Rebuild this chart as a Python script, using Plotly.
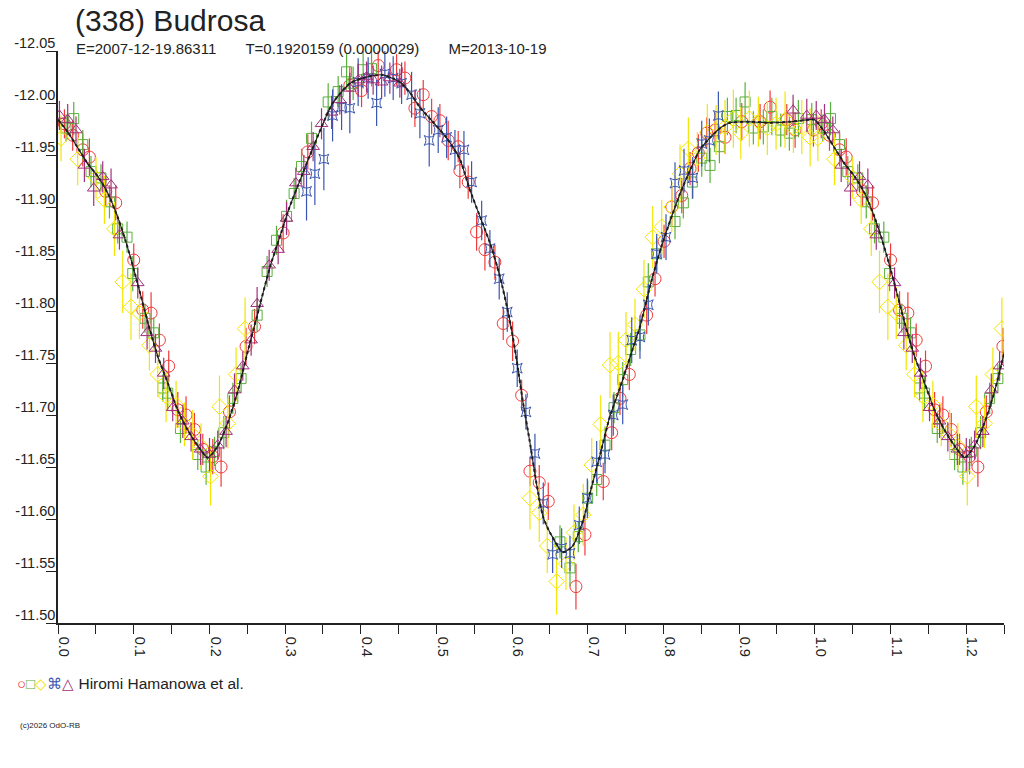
"""
Lightcurve of (338) Budrosa, folded on the rotation period.
Five observing sessions plus the fitted curve; phase 0-0.25 repeated past 1.0.
"""

import plotly.graph_objects as go

# ---------------------------------------------------------------------------
# Data (phase, reduced magnitude, 1-sigma error)
# ---------------------------------------------------------------------------
RED_PHASE = [
    0.0085, 0.0194, 0.0327, 0.0415, 0.0631, 0.0763, 0.1001, 0.1120, 0.1230, 0.1340,
    0.1463, 0.1583, 0.1692, 0.1803, 0.1913, 0.2045, 0.2155, 0.2266, 0.2485, 0.2597,
    0.2975, 0.3301, 0.3856, 0.4011, 0.4231, 0.4474, 0.4584, 0.4716, 0.4826, 0.4937,
    0.5046, 0.5156, 0.5288, 0.5310, 0.5420, 0.5531, 0.5641, 0.5773, 0.5883, 0.6007,
    0.6126, 0.6236, 0.6359, 0.6478, 0.6844, 0.6963, 0.7205, 0.7316, 0.7426, 0.7549,
    0.7779, 0.7889, 0.8008, 0.8110, 0.8242, 0.8352, 0.8461, 0.8572, 0.8682, 0.8814,
    0.9035, 0.9277, 0.9409, 0.9630, 0.9740, 0.9982,
]
RED_MAG = [
    -11.980, -11.969, -11.955, -11.948, -11.915, -11.904, -11.849, -11.801, -11.798, -11.772,
    -11.747, -11.705, -11.700, -11.686, -11.667, -11.660, -11.650, -11.703, -11.766, -11.785,
    -11.875, -11.953, -12.017, -12.012, -12.036, -12.032, -12.024, -11.995, -12.008, -11.987,
    -11.983, -11.964, -11.958, -11.935, -11.924, -11.876, -11.859, -11.847, -11.788, -11.771,
    -11.719, -11.646, -11.635, -11.617, -11.535, -11.585, -11.636, -11.683, -11.716, -11.739,
    -11.796, -11.831, -11.867, -11.900, -11.911, -11.937, -11.952, -11.971, -11.974, -11.967,
    -11.982, -11.982, -11.996, -11.984, -11.974, -11.974,
]
RED_ERR = [
    0.014, 0.015, 0.016, 0.018, 0.015, 0.017, 0.016, 0.018, 0.020, 0.016,
    0.015, 0.017, 0.018, 0.016, 0.015, 0.017, 0.019, 0.016, 0.018, 0.017,
    0.018, 0.017, 0.018, 0.016, 0.020, 0.015, 0.016, 0.018, 0.014, 0.017,
    0.016, 0.019, 0.015, 0.017, 0.016, 0.018, 0.020, 0.017, 0.016, 0.019,
    0.015, 0.014, 0.017, 0.018, 0.022, 0.020, 0.018, 0.017, 0.016, 0.015,
    0.018, 0.017, 0.016, 0.019, 0.017, 0.016, 0.018, 0.015, 0.017, 0.016,
    0.018, 0.017, 0.016, 0.015, 0.017, 0.016,
]

GREEN_PHASE = [
    0.0106, 0.0208, 0.0327, 0.0436, 0.0568, 0.0680, 0.0789, 0.0912, 0.0988, 0.1150,
    0.1265, 0.1384, 0.1450, 0.1618, 0.1847, 0.1957, 0.2068, 0.2191, 0.2310, 0.2419,
    0.2631, 0.2763, 0.2887, 0.3020, 0.3120, 0.3218, 0.3350, 0.3570, 0.3702, 0.3813,
    0.3900, 0.4032, 0.4143, 0.6633, 0.6765, 0.6875, 0.6999, 0.7118, 0.7228, 0.7347,
    0.7462, 0.7567, 0.7690, 0.7800, 0.7911, 0.8153, 0.8263, 0.8382, 0.8506, 0.8616,
    0.8739, 0.8845, 0.8960, 0.9079, 0.9188, 0.9320, 0.9432, 0.9550, 0.9664, 0.9783,
    0.9960,
]
GREEN_MAG = [
    -11.976, -11.985, -11.960, -11.934, -11.928, -11.905, -11.879, -11.871, -11.836, -11.793,
    -11.779, -11.726, -11.721, -11.687, -11.662, -11.650, -11.665, -11.683, -11.716, -11.735,
    -11.796, -11.838, -11.868, -11.891, -11.913, -11.939, -11.966, -12.001, -12.011, -12.030,
    -12.019, -12.032, -12.033, -11.578, -11.553, -11.583, -11.620, -11.638, -11.671, -11.707,
    -11.734, -11.763, -11.777, -11.828, -11.855, -11.886, -11.904, -11.924, -11.947, -11.940,
    -11.958, -11.987, -11.988, -12.001, -11.976, -11.977, -11.987, -11.974, -11.971, -11.985,
    -11.984,
]
GREEN_ERR = [
    0.013, 0.016, 0.014, 0.015, 0.013, 0.016, 0.014, 0.015, 0.017, 0.014,
    0.015, 0.013, 0.016, 0.014, 0.015, 0.017, 0.014, 0.016, 0.015, 0.014,
    0.016, 0.015, 0.014, 0.016, 0.015, 0.017, 0.016, 0.018, 0.015, 0.017,
    0.016, 0.018, 0.017, 0.016, 0.018, 0.015, 0.017, 0.016, 0.018, 0.015,
    0.017, 0.016, 0.015, 0.018, 0.016, 0.017, 0.015, 0.016, 0.018, 0.017,
    0.016, 0.018, 0.017, 0.019, 0.016, 0.017, 0.018, 0.016, 0.017, 0.018,
    0.016,
]

YELLOW_PHASE = [
    0.0040, 0.0260, 0.0502, 0.0613, 0.0746, 0.0855, 0.0965, 0.1076, 0.1208, 0.1318,
    0.1428, 0.1560, 0.1671, 0.1781, 0.1890, 0.2015, 0.2134, 0.2244, 0.2353, 0.2472,
    0.6236, 0.6359, 0.6465, 0.6589, 0.6712, 0.6818, 0.6941, 0.7052, 0.7171, 0.7294,
    0.7403, 0.7505, 0.7624, 0.7743, 0.7858, 0.7977, 0.8110, 0.8219, 0.8329, 0.8448,
    0.8580, 0.8695, 0.8814, 0.8924, 0.9022, 0.9135, 0.9254, 0.9373, 0.9488, 0.9607,
    0.9717, 0.9828, 0.9938,
]
YELLOW_MAG = [
    -11.966, -11.946, -11.928, -11.907, -11.879, -11.828, -11.804, -11.798, -11.767, -11.739,
    -11.718, -11.710, -11.691, -11.681, -11.670, -11.641, -11.708, -11.692, -11.739, -11.783,
    -11.620, -11.606, -11.574, -11.540, -11.557, -11.587, -11.604, -11.652, -11.691, -11.748,
    -11.750, -11.772, -11.787, -11.821, -11.871, -11.881, -11.900, -11.932, -11.956, -11.947,
    -11.972, -11.974, -11.977, -11.985, -11.971, -11.985, -11.982, -11.976, -11.980, -11.984,
    -11.976, -11.977, -11.967,
]
YELLOW_ERR = [
    0.022, 0.025, 0.020, 0.023, 0.026, 0.030, 0.032, 0.025, 0.024, 0.022,
    0.025, 0.023, 0.021, 0.024, 0.022, 0.028, 0.030, 0.024, 0.026, 0.030,
    0.030, 0.028, 0.026, 0.032, 0.025, 0.027, 0.030, 0.026, 0.028, 0.032,
    0.030, 0.027, 0.025, 0.028, 0.030, 0.026, 0.024, 0.028, 0.030, 0.025,
    0.027, 0.024, 0.026, 0.028, 0.025, 0.027, 0.024, 0.026, 0.025, 0.027,
    0.024, 0.026, 0.028,
]

BLUE_PHASE = [
    0.3284, 0.3394, 0.3513, 0.3628, 0.3747, 0.3856, 0.3966, 0.4098, 0.4210, 0.4319,
    0.4429, 0.4540, 0.4672, 0.4782, 0.4905, 0.5024, 0.5135, 0.5245, 0.5364, 0.5465,
    0.5598, 0.5707, 0.5830, 0.5936, 0.6068, 0.6183, 0.6302, 0.6412, 0.6536, 0.6655,
    0.6765, 0.6888, 0.6994, 0.7118, 0.7228, 0.7337, 0.7462, 0.7581, 0.7690, 0.7800,
    0.7911, 0.8034, 0.8153, 0.8272, 0.8387, 0.8506, 0.8607, 0.8726,
]
BLUE_MAG = [
    -11.915, -11.932, -11.946, -11.988, -11.996, -11.995, -12.020, -12.024, -12.000, -12.028,
    -12.024, -12.019, -12.008, -11.990, -11.964, -11.974, -11.967, -11.955, -11.955, -11.924,
    -11.887, -11.860, -11.831, -11.799, -11.745, -11.703, -11.663, -11.615, -11.566, -11.572,
    -11.567, -11.594, -11.620, -11.655, -11.662, -11.700, -11.710, -11.772, -11.775, -11.806,
    -11.855, -11.871, -11.923, -11.935, -11.928, -11.961, -11.964, -11.988,
]
BLUE_ERR = [
    0.028, 0.030, 0.030, 0.025, 0.022, 0.024, 0.023, 0.020, 0.022, 0.022,
    0.021, 0.020, 0.022, 0.024, 0.025, 0.022, 0.020, 0.019, 0.018, 0.020,
    0.019, 0.018, 0.020, 0.019, 0.018, 0.017, 0.019, 0.020, 0.018, 0.019,
    0.017, 0.018, 0.019, 0.020, 0.018, 0.020, 0.019, 0.022, 0.021, 0.020,
    0.019, 0.022, 0.020, 0.021, 0.020, 0.022, 0.021, 0.023,
]

PURPLE_PHASE = [
    0.0019, 0.0128, 0.0238, 0.0349, 0.0472, 0.0591, 0.0701, 0.0812, 0.1054, 0.1177,
    0.1288, 0.1397, 0.1516, 0.1649, 0.1758, 0.1883, 0.2002, 0.2111, 0.2221, 0.2332,
    0.2442, 0.2552, 0.2631, 0.2790, 0.2909, 0.3020, 0.3143, 0.3248, 0.3371, 0.3482,
    0.3615, 0.3724, 0.3856, 0.3966, 0.4077, 0.4164, 0.4276, 0.4385, 0.4517, 0.9713,
    0.9894,
]
PURPLE_MAG = [
    -11.988, -11.984, -11.974, -11.940, -11.918, -11.929, -11.921, -11.873, -11.827, -11.779,
    -11.764, -11.740, -11.707, -11.694, -11.679, -11.667, -11.662, -11.671, -11.684, -11.724,
    -11.747, -11.772, -11.807, -11.844, -11.859, -11.889, -11.923, -11.934, -11.958, -11.980,
    -11.991, -12.003, -12.014, -12.022, -12.025, -12.022, -12.020, -12.024, -12.019, -11.993,
    -11.988,
]
PURPLE_ERR = [
    0.014, 0.015, 0.013, 0.016, 0.017, 0.015, 0.016, 0.014, 0.015, 0.016,
    0.014, 0.015, 0.013, 0.016, 0.014, 0.015, 0.016, 0.014, 0.015, 0.016,
    0.014, 0.015, 0.016, 0.015, 0.014, 0.016, 0.015, 0.016, 0.014, 0.015,
    0.016, 0.014, 0.015, 0.016, 0.015, 0.014, 0.016, 0.015, 0.014, 0.015,
    0.016,
]

# fitted lightcurve, sampled off the plot
FIT_PHASE = [
    0.000, 0.013, 0.026, 0.039, 0.053, 0.066, 0.079, 0.092, 0.105, 0.119,
    0.132, 0.145, 0.158, 0.171, 0.185, 0.198, 0.211, 0.224, 0.238, 0.251,
    0.264, 0.280, 0.293, 0.306, 0.320, 0.333, 0.363, 0.386, 0.408, 0.429,
    0.452, 0.465, 0.478, 0.495, 0.514, 0.531, 0.544, 0.558, 0.571, 0.584,
    0.597, 0.606, 0.614, 0.623, 0.633, 0.641, 0.650, 0.667, 0.680, 0.694,
    0.703, 0.716, 0.729, 0.743, 0.756, 0.769, 0.782, 0.796, 0.809, 0.822,
    0.835, 0.848, 0.862, 0.875, 0.888, 0.914, 0.941, 0.967, 0.994,
]
FIT_MAG = [
    -11.984, -11.972, -11.957, -11.942, -11.929, -11.913, -11.890, -11.861, -11.827, -11.788,
    -11.756, -11.731, -11.705, -11.686, -11.670, -11.659, -11.670, -11.692, -11.724, -11.762,
    -11.798, -11.842, -11.871, -11.900, -11.926, -11.950, -12.000, -12.019, -12.025, -12.027,
    -12.020, -12.010, -11.996, -11.982, -11.966, -11.946, -11.917, -11.890, -11.865, -11.833,
    -11.791, -11.753, -11.714, -11.676, -11.631, -11.602, -11.587, -11.568, -11.574, -11.599,
    -11.625, -11.661, -11.698, -11.727, -11.756, -11.785, -11.823, -11.859, -11.887, -11.913,
    -11.935, -11.955, -11.967, -11.976, -11.981, -11.982, -11.981, -11.982, -11.984,
]

X_TICKS = [
    0.00, 0.05, 0.10, 0.15, 0.20, 0.25, 0.30, 0.35, 0.40, 0.45, 0.50, 0.55, 0.60,
    0.65, 0.70, 0.75, 0.80, 0.85, 0.90, 0.95, 1.00, 1.05, 1.10, 1.15, 1.20, 1.25,
]
X_TICK_LABELS = [
    "0.0", "", "0.1", "", "0.2", "", "0.3", "", "0.4", "", "0.5", "", "0.6",
    "", "0.7", "", "0.8", "", "0.9", "", "1.0", "", "1.1", "", "1.2", "",
]
Y_TICKS = [-12.05, -12.00, -11.95, -11.90, -11.85, -11.80,
           -11.75, -11.70, -11.65, -11.60, -11.55, -11.50]
Y_TICK_LABELS = ["-12.05", "-12.00", "-11.95", "-11.90", "-11.85", "-11.80",
                 "-11.75", "-11.70", "-11.65", "-11.60", "-11.55", "-11.50"]

TITLE = "(338) Budrosa"
GAP = "\u00a0" * 7
SUBTITLE = f"E=2007-12-19.86311{GAP}T=0.1920159 (0.0000029){GAP}M=2013-10-19"
OBSERVER = "Hiromi Hamanowa et al."
COPYRIGHT = "(c)2026 OdO-RB"

# ---------------------------------------------------------------------------
# Styling / page geometry (pixels on the 1024x768 page)
# ---------------------------------------------------------------------------
COLOR_RED = "#f03a3a"
COLOR_GREEN = "#5ab03c"
COLOR_YELLOW = "#f2e600"
COLOR_BLUE = "#3a55b0"
COLOR_PURPLE = "#a3307c"
COLOR_FIT = "#1e1e1e"
COLOR_AXIS = "#222222"
FONT = "Liberation Sans, Arial, sans-serif"

PAGE_W, PAGE_H = 1024, 768
PLOT_L, PLOT_R, PLOT_T, PLOT_B = 58, 1004, 51, 623
WRAP_LIMIT = 0.25   # phases repeated after 1.0

# drop the default <body> margin so the figure sits at the page corner
POST_SCRIPT = "document.body.style.margin = '0px';"


def _wrap(phase, values):
    """Append the first quarter of the cycle again, shifted by one period."""
    extra = [(p + 1.0, v) for p, v in zip(phase, values) if p <= WRAP_LIMIT + 0.002]
    return list(phase) + [e[0] for e in extra], list(values) + [e[1] for e in extra]


def _series(phase, mag, err, color, symbol, size):
    x, y = _wrap(phase, mag)
    _, e = _wrap(phase, err)
    return go.Scatter(
        x=x, y=y, mode="markers", showlegend=False,
        marker=dict(symbol=symbol, size=size, color=color, line=dict(width=1)),
        error_y=dict(type="data", array=e, color=color, thickness=1.2, width=0),
        hovertemplate="%{x:.3f}<br>%{y:.3f}<extra></extra>",
    )


def _px_to_paper(x, y):
    return ((x - PLOT_L) / (PLOT_R - PLOT_L), (PLOT_B - y) / (PLOT_B - PLOT_T))


def build_figure() -> go.Figure:
    fig = go.Figure()

    fig.add_trace(_series(RED_PHASE, RED_MAG, RED_ERR, COLOR_RED, "circle-open", 12))
    fig.add_trace(_series(GREEN_PHASE, GREEN_MAG, GREEN_ERR, COLOR_GREEN, "square-open", 10))
    fig.add_trace(_series(YELLOW_PHASE, YELLOW_MAG, YELLOW_ERR, COLOR_YELLOW, "diamond-open", 12))
    fig.add_trace(_series(BLUE_PHASE, BLUE_MAG, BLUE_ERR, COLOR_BLUE, "star-square-open", 9))
    fig.add_trace(_series(PURPLE_PHASE, PURPLE_MAG, PURPLE_ERR, COLOR_PURPLE, "triangle-up-open", 11))

    # fitted curve: thin solid line with a dotted one on top (rough, like the original)
    fx, fy = _wrap(FIT_PHASE, FIT_MAG)
    fig.add_trace(go.Scatter(x=fx, y=fy, mode="lines", showlegend=False, hoverinfo="skip",
                             line=dict(color=COLOR_FIT, width=1.1, shape="spline", smoothing=0.6)))
    fig.add_trace(go.Scatter(x=fx, y=fy, mode="lines", showlegend=False, hoverinfo="skip",
                             line=dict(color=COLOR_FIT, width=2, dash="dot",
                                       shape="spline", smoothing=0.6)))

    fig.update_xaxes(
        range=[0, 1.25], tickmode="array", tickvals=X_TICKS, ticktext=X_TICK_LABELS,
        showgrid=False, zeroline=False, showline=True, linecolor=COLOR_AXIS, linewidth=1.5,
        ticks="outside", ticklen=9, tickwidth=1.2, tickcolor=COLOR_AXIS, automargin=False,
        tickangle=90, ticklabelshift=6, tickfont=dict(family=FONT, size=14.5, color=COLOR_AXIS),
    )
    fig.update_yaxes(
        range=[-11.50, -12.05], tickmode="array", tickvals=Y_TICKS, ticktext=Y_TICK_LABELS,
        showgrid=False, zeroline=False, showline=True, linecolor=COLOR_AXIS, linewidth=1.5,
        ticks="outside", ticklen=10, tickwidth=1.2, tickcolor=COLOR_AXIS, automargin=False,
        ticklabelstandoff=-12, ticklabelshift=8,
        tickfont=dict(family=FONT, size=14.5, color=COLOR_AXIS),
    )

    symbols = (f'<span style="color:{COLOR_RED}">○</span>'
               f'<span style="color:{COLOR_GREEN}">□</span>'
               f'<span style="color:{COLOR_YELLOW}">◇</span>'
               f'<span style="color:{COLOR_BLUE}">⌘</span>'
               f'<span style="color:{COLOR_PURPLE}">△</span>')

    annotations = [
        dict(text=TITLE, px=(74, 21), size=30),
        dict(text=SUBTITLE, px=(75, 48), size=15),
        dict(text=f'<span style="font-size:15px">{symbols}</span> {OBSERVER}',
             px=(16, 683), size=15.5),
        dict(text=COPYRIGHT, px=(19, 725), size=8),
    ]
    for a in annotations:
        x, y = _px_to_paper(*a.pop("px"))
        a.update(x=x, y=y, xref="paper", yref="paper", showarrow=False,
                 xanchor="left", yanchor="middle", borderpad=0,
                 font=dict(family=FONT, size=a.pop("size"), color=COLOR_AXIS))

    fig.update_layout(
        width=PAGE_W, height=PAGE_H,
        margin=dict(l=PLOT_L, r=PAGE_W - PLOT_R, t=PLOT_T, b=PAGE_H - PLOT_B),
        paper_bgcolor="white", plot_bgcolor="white",
        font=dict(family=FONT, color=COLOR_AXIS),
        annotations=annotations,
        hoverlabel=dict(bgcolor="white", font_size=12),
    )
    return fig


def main() -> None:
    fig = build_figure()
    fig.write_html("out.html", post_script=POST_SCRIPT,
                   config={"displayModeBar": False})


if __name__ == "__main__":
    main()
